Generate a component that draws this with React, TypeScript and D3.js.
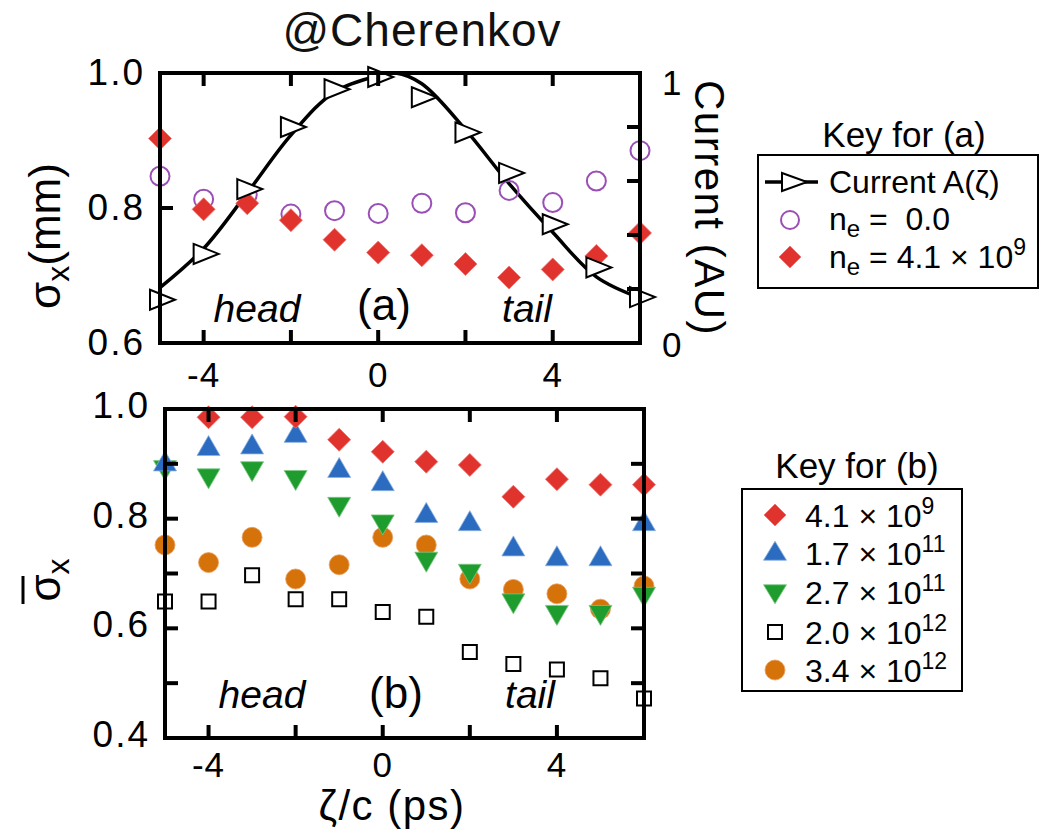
import React from "react";
import * as d3 from "d3";

// ---------- data ----------
const zeta = [-5, -4, -3, -2, -1, 0, 1, 2, 3, 4, 5, 6];

// panel (a)
const currentA = [0.16, 0.33, 0.57, 0.8, 0.94, 0.985, 0.91, 0.78, 0.63, 0.44, 0.28, 0.17];
const currentFitZeta = [-5, -4, -3, -2, -1, 0, 0.4, 1, 2, 3, 4, 5, 6];
const currentFitValue = [0.205, 0.35, 0.556, 0.77, 0.93, 0.99, 1.0, 0.96, 0.79, 0.59, 0.41, 0.245, 0.167];
const sigmaNe0 = [0.847, 0.813, 0.82, 0.791, 0.796, 0.792, 0.807, 0.793, 0.826, 0.808, 0.84, 0.885];
const sigmaNe41e9 = [0.903, 0.798, 0.807, 0.782, 0.753, 0.734, 0.73, 0.717, 0.697, 0.709, 0.729, 0.763];

// panel (b)
const zetaB41e9 = [-4, -3, -2, -1, 0, 1, 2, 3, 4, 5, 6];
const b41e9 = [0.985, 0.985, 0.986, 0.944, 0.922, 0.904, 0.898, 0.84, 0.872, 0.862, 0.862];
const b17e11 = [0.901, 0.929, 0.932, 0.953, 0.889, 0.865, 0.807, 0.792, 0.746, 0.728, 0.728, 0.792];
const b27e11 = [0.892, 0.877, 0.89, 0.874, 0.825, 0.793, 0.725, 0.703, 0.649, 0.628, 0.628, 0.661];
const b20e12 = [0.649, 0.649, 0.697, 0.653, 0.653, 0.63, 0.621, 0.557, 0.535, 0.525, 0.509, 0.472];
const b34e12 = [0.752, 0.72, 0.766, 0.69, 0.716, 0.766, 0.752, 0.69, 0.671, 0.663, 0.635, 0.677];

const xTicks = [-4, -2, 0, 2, 4];
const xTickLabels = [-4, 0, 4];
const aLeftTickLabels = [0.6, 0.8, 1.0];
const aLeftMinorTicks = [0.8];
const aRightTicks = [0.2, 0.4, 0.6, 0.8];
const bTickLabels = [0.4, 0.6, 0.8, 1.0];
const bMinorTicks = [0.5, 0.6, 0.7, 0.8, 0.9];

// ---------- styles ----------
const FONT = "'Liberation Sans', Arial, Helvetica, sans-serif";
const RED = "#e0332d";
const BLUE = "#2b6cc0";
const GREEN = "#1f9c2e";
const ORANGE = "#d6720a";
const PURPLE = "#9a4fb6";

const diamond = (s: number) => `M0,${-s}L${s},0L0,${s}L${-s},0Z`;
const triUp = (w: number, h: number) => `M0,${-h * 0.62}L${w / 2},${h * 0.38}L${-w / 2},${h * 0.38}Z`;
const triDown = (w: number, h: number) => `M0,${h * 0.62}L${w / 2},${-h * 0.38}L${-w / 2},${-h * 0.38}Z`;
const triRight = (l: number, h: number) => `M${-l * 0.4},${-h / 2}L${l * 0.6},0L${-l * 0.4},${h / 2}Z`;
const square = (s: number) => `M${-s / 2},${-s / 2}H${s / 2}V${s / 2}H${-s / 2}Z`;

export default function App() {
  // scales
  const xa = d3.scaleLinear().domain([-5, 6]).range([160, 640]);
  const ya = d3.scaleLinear().domain([0.6, 1.0]).range([343, 73]);
  const yaR = d3.scaleLinear().domain([0, 1]).range([343, 73]);
  const xb = d3.scaleLinear().domain([-5, 6]).range([165, 644]);
  const yb = d3.scaleLinear().domain([0.4, 1.0]).range([738, 409]);

  const fitLine = d3
    .line<number>()
    .x((_, i) => xa(currentFitZeta[i]))
    .y((d) => yaR(d))
    .curve(d3.curveCatmullRom.alpha(0.5));

  const TL = 13;
  const axisW = 4;
  const tickFS = 37;
  const tickLS = 2;
  const legFS = 32;
  const NB = "\u00A0";

  return (
    <svg width={1047} height={833} style={{ position: "absolute", left: 0, top: 0, background: "#fff" }} fontFamily={FONT}>
      <rect x={0} y={0} width={1047} height={833} fill="#fff" />
      <text x={422} y={46} fontSize={46} letterSpacing={1} textAnchor="middle" fill="#111">@Cherenkov</text>

      {/* ---------- Panel (a) ---------- */}
      <g>
        <path d={fitLine(currentFitValue) || ""} fill="none" stroke="#000" strokeWidth={3.5} />
        {sigmaNe0.map((v, i) => (
          <circle key={"c" + i} cx={xa(zeta[i])} cy={ya(v)} r={9.5} fill="none" stroke={PURPLE} strokeWidth={2} />
        ))}
        {sigmaNe41e9.map((v, i) => (
          <path key={"d" + i} d={diamond(11.5)} transform={`translate(${xa(zeta[i])},${ya(v)})`} fill={RED} stroke="#f07070" strokeWidth={0.8} />
        ))}
        {currentA.map((v, i) => (
          <path key={"t" + i} d={triRight(25, 20)} transform={`translate(${xa(zeta[i])},${yaR(v)})`} fill="#fff" stroke="#000" strokeWidth={2} />
        ))}
        <rect x={160} y={73} width={480} height={270} fill="none" stroke="#000" strokeWidth={axisW} />
        {xTicks.map((t) => (
          <g key={"xa" + t}>
            <line x1={xa(t)} x2={xa(t)} y1={343} y2={343 - TL} stroke="#000" strokeWidth={axisW} />
            <line x1={xa(t)} x2={xa(t)} y1={73} y2={73 + TL} stroke="#000" strokeWidth={axisW} />
          </g>
        ))}
        {aLeftMinorTicks.map((t) => (
          <line key={"al" + t} x1={160} x2={160 + TL} y1={ya(t)} y2={ya(t)} stroke="#000" strokeWidth={axisW} />
        ))}
        {aRightTicks.map((t) => (
          <line key={"ar" + t} x1={640} x2={640 - TL} y1={yaR(t)} y2={yaR(t)} stroke="#000" strokeWidth={axisW} />
        ))}
        {xTickLabels.map((t) => (
          <text key={"xla" + t} x={xa(t)} y={387} fontSize={35} letterSpacing={1} textAnchor="middle">{t}</text>
        ))}
        {aLeftTickLabels.map((t) => (
          <text key={"yla" + t} x={145} y={ya(t) + 12} fontSize={tickFS} letterSpacing={tickLS} textAnchor="end">{t.toFixed(1)}</text>
        ))}
        <text x={662} y={yaR(1) + 22} fontSize={35}>1</text>
        <text x={662} y={yaR(0) + 14} fontSize={35}>0</text>
        <text transform={`translate(695,208) rotate(90)`} fontSize={42} letterSpacing={1.5} textAnchor="middle">Current (AU)</text>
        <text transform={`translate(60,236) rotate(-90)`} fontSize={44} textAnchor="middle">
          σ<tspan fontSize={32} dy={9}>x</tspan><tspan dy={-9}>(mm)</tspan>
        </text>
        <text x={257} y={322} fontSize={39} fontStyle="italic" textAnchor="middle">head</text>
        <text x={384} y={320} fontSize={44} textAnchor="middle">(a)</text>
        <text x={527} y={322} fontSize={39} fontStyle="italic" textAnchor="middle">tail</text>
      </g>

      {/* ---------- Panel (b) ---------- */}
      <g>
        {b34e12.map((v, i) => (
          <circle key={"o" + i} cx={xb(zeta[i])} cy={yb(v)} r={10} fill={ORANGE} stroke="#e8a060" strokeWidth={0.8} />
        ))}
        {b20e12.map((v, i) => (
          <path key={"s" + i} d={square(14)} transform={`translate(${xb(zeta[i])},${yb(v)})`} fill="#fff" stroke="#000" strokeWidth={2} />
        ))}
        {b27e11.map((v, i) => (
          <path key={"g" + i} d={triDown(23, 20)} transform={`translate(${xb(zeta[i])},${yb(v)})`} fill={GREEN} stroke="#7cc884" strokeWidth={0.8} />
        ))}
        {b17e11.map((v, i) => (
          <path key={"b" + i} d={triUp(23, 20)} transform={`translate(${xb(zeta[i])},${yb(v)})`} fill={BLUE} stroke="#8ab0e0" strokeWidth={0.8} />
        ))}
        {b41e9.map((v, i) => (
          <path key={"r" + i} d={diamond(11.5)} transform={`translate(${xb(zetaB41e9[i])},${yb(v)})`} fill={RED} stroke="#f07070" strokeWidth={0.8} />
        ))}
        <rect x={165} y={409} width={479} height={329} fill="none" stroke="#000" strokeWidth={axisW} />
        {xTicks.map((t) => (
          <g key={"xb" + t}>
            <line x1={xb(t)} x2={xb(t)} y1={738} y2={738 - TL} stroke="#000" strokeWidth={axisW} />
            <line x1={xb(t)} x2={xb(t)} y1={409} y2={409 + TL} stroke="#000" strokeWidth={axisW} />
          </g>
        ))}
        {bMinorTicks.map((t) => (
          <g key={"yb" + t}>
            <line x1={165} x2={165 + TL} y1={yb(t)} y2={yb(t)} stroke="#000" strokeWidth={axisW} />
            <line x1={644} x2={644 - TL} y1={yb(t)} y2={yb(t)} stroke="#000" strokeWidth={axisW} />
          </g>
        ))}
        {xTickLabels.map((t) => (
          <text key={"xlb" + t} x={xb(t)} y={777} fontSize={35} letterSpacing={1} textAnchor="middle">{t}</text>
        ))}
        {bTickLabels.map((t) => (
          <text key={"ylb" + t} x={150} y={yb(t) + 9} fontSize={tickFS} letterSpacing={tickLS} textAnchor="end">{t.toFixed(1)}</text>
        ))}
        <text x={392} y={820} fontSize={42} letterSpacing={1.5} textAnchor="middle">ζ/c (ps)</text>
        <g transform="translate(60,580) rotate(-90)">
          <text x={0} y={0} fontSize={44} textAnchor="middle">
            σ<tspan fontSize={32} dy={9}>x</tspan>
          </text>
          <line x1={-24} x2={4} y1={-37} y2={-37} stroke="#000" strokeWidth={3} />
        </g>
        <text x={262} y={708} fontSize={39} fontStyle="italic" textAnchor="middle">head</text>
        <text x={396} y={708} fontSize={44} textAnchor="middle">(b)</text>
        <text x={530} y={708} fontSize={39} fontStyle="italic" textAnchor="middle">tail</text>
      </g>

      {/* ---------- Legend (a) ---------- */}
      <g>
        <text x={904} y={147} fontSize={35} textAnchor="middle">Key for (a)</text>
        <rect x={758} y={155} width={280} height={133} fill="none" stroke="#000" strokeWidth={2} />
        <line x1={765} x2={818} y1={182} y2={182} stroke="#000" strokeWidth={3.5} />
        <path d={triRight(25, 18)} transform="translate(792,182)" fill="#fff" stroke="#000" strokeWidth={2} />
        <text x={829} y={193} fontSize={legFS}>Current A(ζ)</text>
        <circle cx={790} cy={220} r={9} fill="none" stroke={PURPLE} strokeWidth={2} />
        <text x={829} y={230} fontSize={legFS}>n<tspan fontSize={24} dy={7}>e</tspan><tspan dy={-7}>{`${NB}=${NB}${NB}0.0`}</tspan></text>
        <path d={diamond(11)} transform="translate(790,257)" fill={RED} stroke="#f07070" strokeWidth={0.8} />
        <text x={829} y={268} fontSize={legFS}>n<tspan fontSize={24} dy={7}>e</tspan><tspan dy={-7}>{`${NB}=${NB}4.1${NB}×${NB}10`}</tspan><tspan fontSize={23} dy={-13}>9</tspan></text>
      </g>

      {/* ---------- Legend (b) ---------- */}
      <g>
        <text x={857} y={478} fontSize={35} textAnchor="middle">Key for (b)</text>
        <rect x={742} y={489} width={220} height={202} fill="none" stroke="#000" strokeWidth={2} />
        <path d={diamond(11)} transform="translate(775,515)" fill={RED} stroke="#f07070" strokeWidth={0.8} />
        <path d={triUp(23, 19)} transform="translate(775,553)" fill={BLUE} stroke="#8ab0e0" strokeWidth={0.8} />
        <path d={triDown(23, 19)} transform="translate(775,592)" fill={GREEN} stroke="#7cc884" strokeWidth={0.8} />
        <path d={square(14)} transform="translate(775,632)" fill="#fff" stroke="#000" strokeWidth={2} />
        <circle cx={775} cy={670} r={10} fill={ORANGE} stroke="#e8a060" strokeWidth={0.8} />
        <text x={805} y={527} fontSize={legFS}>4.1 × 10<tspan fontSize={23} dy={-13}>9</tspan></text>
        <text x={805} y={565} fontSize={legFS}>1.7 × 10<tspan fontSize={23} dy={-13}>11</tspan></text>
        <text x={805} y={604} fontSize={legFS}>2.7 × 10<tspan fontSize={23} dy={-13}>11</tspan></text>
        <text x={805} y={644} fontSize={legFS}>2.0 × 10<tspan fontSize={23} dy={-13}>12</tspan></text>
        <text x={805} y={682} fontSize={legFS}>3.4 × 10<tspan fontSize={23} dy={-13}>12</tspan></text>
      </g>
    </svg>
  );
}
